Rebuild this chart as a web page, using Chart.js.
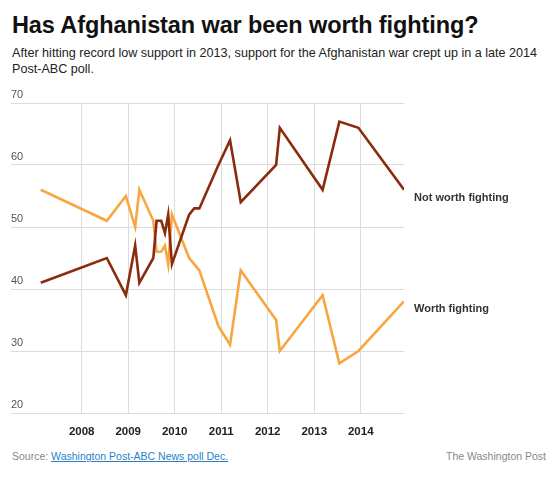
<!DOCTYPE html>
<html>
<head>
<meta charset="utf-8">
<script src="https://cdn.jsdelivr.net/npm/chart.js@4.4.1/dist/chart.umd.min.js"></script>
<style>
  body { margin: 0; width: 553px; height: 483px; background: #fff; font-family: "Liberation Sans", Arial, sans-serif; position: relative; overflow: hidden; }
  #title { position: absolute; left: 12px; top: 11px; font-size: 23.5px; font-weight: bold; color: #111; line-height: 28px; white-space: nowrap; letter-spacing: -0.1px; }
  #subtitle { position: absolute; left: 12px; top: 46px; font-size: 12.6px; color: #222; line-height: 15.5px; white-space: nowrap; }
  #chartWrap { position: absolute; left: 0; top: 85px; width: 553px; height: 360px; }
  #source { position: absolute; left: 12px; top: 450px; font-size: 10.5px; color: #888; }
  #source a { color: #2a7fc9; text-decoration: underline; }
  #credit { position: absolute; right: 7px; top: 450px; font-size: 10.5px; color: #888; }
</style>
</head>
<body>
<div id="title">Has Afghanistan war been worth fighting?</div>
<div id="subtitle">After hitting record low support in 2013, support for the Afghanistan war crept up in a late 2014<br>Post-ABC poll.</div>
<div id="chartWrap"><canvas id="pollChart"></canvas></div>
<div id="source">Source: <a href="#">Washington Post-ABC News poll Dec.</a></div>
<div id="credit">The Washington Post</div>
<script>
// Poll dates as decimal years
const pollDates = [2007.12, 2008.54, 2008.95, 2009.15, 2009.24, 2009.54, 2009.61, 2009.71, 2009.79, 2009.86, 2009.94,
    2010.31, 2010.42, 2010.53, 2010.94, 2011.19, 2011.42, 2012.18, 2012.26, 2013.18, 2013.54, 2013.95, 2014.93];
const notWorth = [41, 45, 39, 47, 41, 45, 51, 51, 49, 52, 44, 52, 53, 53, 60, 64, 54, 60, 66, 56, 67, 66, 56];
const worth = [56, 51, 55, 50, 56, 51, 46, 46, 47, 44, 52, 45, 44, 43, 34, 31, 43, 35, 30, 39, 28, 30, 38];
const yearTicks = [2008, 2009, 2010, 2011, 2012, 2013, 2014];
const valueTicks = [20, 30, 40, 50, 60, 70];
const seriesNames = ['Not worth fighting', 'Worth fighting'];

const toPoints = values => values.map((v, i) => ({ x: pollDates[i], y: v }));

// labels at the end of each line
const endLabels = {
    id: 'endLabels',
    afterDatasetsDraw(chart) {
        const { ctx } = chart;
        ctx.save();
        ctx.font = 'bold 11px "Liberation Sans", Arial, sans-serif';
        ctx.fillStyle = '#333';
        ctx.textAlign = 'left';
        ctx.textBaseline = 'middle';
        chart.data.datasets.forEach((ds, i) => {
            const meta = chart.getDatasetMeta(i);
            const last = meta.data[meta.data.length - 1];
            ctx.fillText(ds.label, last.x + 10, last.y + 8);
        });
        ctx.restore();
    }
};

const ctx = document.getElementById('pollChart').getContext('2d');
new Chart(ctx, {
    type: 'line',
    data: {
        datasets: [
            {
                label: seriesNames[0],
                data: toPoints(notWorth),
                borderColor: '#8a2b0e',
                borderWidth: 2.6,
                pointRadius: 0,
                tension: 0,
                fill: false
            },
            {
                label: seriesNames[1],
                data: toPoints(worth),
                borderColor: '#f8a640',
                borderWidth: 2.6,
                pointRadius: 0,
                tension: 0,
                fill: false
            }
        ]
    },
    options: {
        responsive: true,
        maintainAspectRatio: false,
        animation: false,
        layout: { padding: { left: 11, right: 149, top: 18, bottom: 0 } },
        scales: {
            x: {
                type: 'linear',
                min: 2006.48,
                max: 2014.93,
                afterBuildTicks: scale => { scale.ticks = yearTicks.map(v => ({ value: v })); },
                afterFit: scale => { scale.height = 32; },
                grid: { color: '#dcdcdc', drawTicks: false },
                border: { display: false },
                ticks: {
                    padding: 12,
                    color: '#222',
                    font: { family: '"Liberation Sans", Arial, sans-serif', size: 11.5, weight: 'bold' },
                    callback: v => String(v)
                }
            },
            y: {
                min: 20,
                max: 70,
                afterBuildTicks: scale => { scale.ticks = valueTicks.map(v => ({ value: v })); },
                afterFit: scale => { scale.width = 0; },
                grid: { color: '#dcdcdc', drawTicks: false },
                border: { display: false },
                ticks: {
                    mirror: true,
                    padding: 0,
                    labelOffset: -8,
                    color: '#555',
                    font: { family: '"Liberation Sans", Arial, sans-serif', size: 11 }
                }
            }
        },
        plugins: {
            legend: { display: false },
            tooltip: { enabled: false }
        }
    },
    plugins: [endLabels]
});
</script>
</body>
</html>
